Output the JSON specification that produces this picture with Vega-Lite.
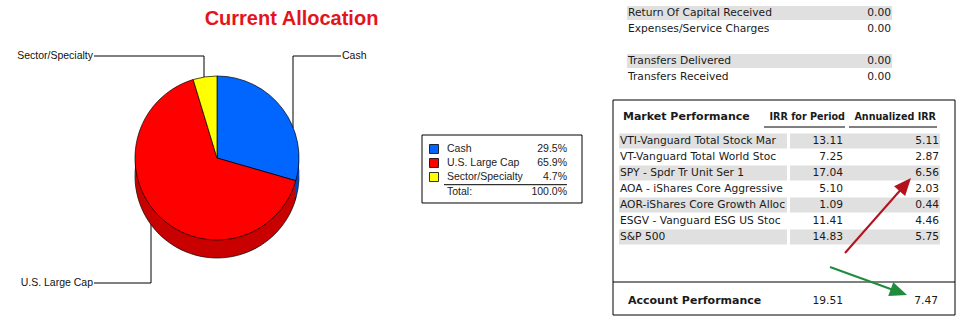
{
  "$schema": "https://vega.github.io/schema/vega-lite/v6.json",
  "padding": 0,
  "background": "white",
  "bounds": "flush",
  "spacing": 0,
  "config": {"view": {"stroke": null}, "axis": {"disable": true}, "legend": {"disable": true}},
  "resolve": {"scale": {"color": "independent", "fill": "independent", "stroke": "independent"}},
  "datasets": {
    "alloc": [
      {"category": "Cash", "pct": 29.5, "order": 1},
      {"category": "U.S. Large Cap", "pct": 65.9, "order": 2},
      {"category": "Sector/Specialty", "pct": 4.7, "order": 3}
    ],
    "alloc_total": [{"label": "Total:", "value": "100.0%"}],
    "callouts": [
      {"category": "Cash", "label_x": 341, "label_y": 56, "pie_x": 293, "pie_y": 128},
      {"category": "Sector/Specialty", "label_x": 94, "label_y": 56, "pie_x": 204, "pie_y": 90},
      {"category": "U.S. Large Cap", "label_x": 94, "label_y": 283, "pie_x": 151, "pie_y": 215}
    ],
    "title": [{"text": "Current Allocation"}],
    "summary": [
      {"section": 1, "item": 1, "row": 0, "label": "Return Of Capital Received", "value": "0.00"},
      {"section": 1, "item": 2, "row": 1, "label": "Expenses/Service Charges", "value": "0.00"},
      {"section": 2, "item": 1, "row": 3, "label": "Transfers Delivered", "value": "0.00"},
      {"section": 2, "item": 2, "row": 4, "label": "Transfers Received", "value": "0.00"}
    ],
    "header": [{"row": 6.5, "section": "Market Performance", "irr": "IRR for Period", "ann": "Annualized IRR"}],
    "market": [
      {"item": 1, "row": 8, "label": "VTI-Vanguard Total Stock Mar", "irr": "13.11", "ann": "5.11"},
      {"item": 2, "row": 9, "label": "VT-Vanguard Total World Stoc", "irr": "7.25", "ann": "2.87"},
      {"item": 3, "row": 10, "label": "SPY - Spdr Tr Unit Ser 1", "irr": "17.04", "ann": "6.56"},
      {"item": 4, "row": 11, "label": "AOA - iShares Core Aggressive", "irr": "5.10", "ann": "2.03"},
      {"item": 5, "row": 12, "label": "AOR-iShares Core Growth Alloc", "irr": "1.09", "ann": "0.44"},
      {"item": 6, "row": 13, "label": "ESGV - Vanguard ESG US Stoc", "irr": "11.41", "ann": "4.46"},
      {"item": 7, "row": 14, "label": "S&P 500", "irr": "14.83", "ann": "5.75"}
    ],
    "account": [{"row": 18, "label": "Account Performance", "irr": "19.51", "ann": "7.47"}],
    "arrows": [
      {"arrow": "S&P annualized", "x_from": 235, "row_from": 15, "x_to": 295.3, "row_to": 10.72, "angle": 41.3},
      {"arrow": "Account annualized", "x_from": 220, "row_from": 15.875, "x_to": 288.9, "row_to": 17.44, "angle": 110}
    ]
  },
  "hconcat": [
    {
      "width": 420,
      "height": 324,
      "layer": [
        {
          "data": {"name": "callouts"},
          "mark": {"type": "rule", "color": "#000000", "strokeWidth": 1},
          "encoding": {
            "x": {"field": "label_x", "type": "quantitative", "scale": {"domain": [0, 420], "nice": false, "zero": false}},
            "x2": {"field": "pie_x"},
            "y": {"field": "label_y", "type": "quantitative", "scale": {"domain": [0, 324], "reverse": true, "nice": false, "zero": false}}
          }
        },
        {
          "data": {"name": "callouts"},
          "mark": {"type": "rule", "color": "#000000", "strokeWidth": 1},
          "encoding": {
            "x": {"field": "pie_x", "type": "quantitative", "scale": {"domain": [0, 420], "nice": false, "zero": false}},
            "y": {"field": "label_y", "type": "quantitative", "scale": {"domain": [0, 324], "reverse": true, "nice": false, "zero": false}},
            "y2": {"field": "pie_y"}
          }
        },
        {
          "data": {"name": "alloc"},
          "mark": {"type": "arc", "radius": 82, "xOffset": 7, "yOffset": 14, "stroke": "#000000", "strokeWidth": 0.7},
          "encoding": {
            "theta": {"field": "pct", "type": "quantitative", "stack": true},
            "order": {"field": "order", "type": "quantitative"},
            "fill": {"field": "category", "type": "nominal", "scale": {"domain": ["Cash", "U.S. Large Cap", "Sector/Specialty"], "range": ["#0046c4", "#c80000", "#c8c800"]}}
          }
        },
        {
          "data": {"name": "alloc"},
          "mark": {"type": "arc", "radius": 82, "xOffset": 7, "yOffset": 10},
          "encoding": {
            "theta": {"field": "pct", "type": "quantitative", "stack": true},
            "order": {"field": "order", "type": "quantitative"},
            "fill": {"field": "category", "type": "nominal", "scale": {"domain": ["Cash", "U.S. Large Cap", "Sector/Specialty"], "range": ["#0046c4", "#c80000", "#c8c800"]}}
          }
        },
        {
          "data": {"name": "alloc"},
          "mark": {"type": "arc", "radius": 82, "xOffset": 7, "yOffset": 6},
          "encoding": {
            "theta": {"field": "pct", "type": "quantitative", "stack": true},
            "order": {"field": "order", "type": "quantitative"},
            "fill": {"field": "category", "type": "nominal", "scale": {"domain": ["Cash", "U.S. Large Cap", "Sector/Specialty"], "range": ["#0046c4", "#c80000", "#c8c800"]}}
          }
        },
        {
          "data": {"name": "alloc"},
          "mark": {"type": "arc", "radius": 82, "xOffset": 7, "yOffset": 2},
          "encoding": {
            "theta": {"field": "pct", "type": "quantitative", "stack": true},
            "order": {"field": "order", "type": "quantitative"},
            "fill": {"field": "category", "type": "nominal", "scale": {"domain": ["Cash", "U.S. Large Cap", "Sector/Specialty"], "range": ["#0046c4", "#c80000", "#c8c800"]}}
          }
        },
        {
          "data": {"name": "alloc"},
          "mark": {"type": "arc", "radius": 82, "xOffset": 7, "yOffset": -4, "stroke": "#000000", "strokeWidth": 0.7},
          "encoding": {
            "theta": {"field": "pct", "type": "quantitative", "stack": true},
            "order": {"field": "order", "type": "quantitative"},
            "color": {"field": "category", "type": "nominal", "scale": {"domain": ["Cash", "U.S. Large Cap", "Sector/Specialty"], "range": ["#0066ff", "#ff0000", "#ffff00"]}}
          }
        },
        {
          "data": {"name": "callouts"},
          "mark": {"type": "text", "font": "Liberation Sans", "fontSize": 10.5, "color": "#111111", "baseline": "middle", "align": {"expr": "datum.label_x < datum.pie_x ? 'right' : 'left'"}, "dx": {"expr": "datum.label_x < datum.pie_x ? -1 : 1"}},
          "encoding": {
            "x": {"field": "label_x", "type": "quantitative", "scale": {"domain": [0, 420], "nice": false, "zero": false}},
            "y": {"field": "label_y", "type": "quantitative", "scale": {"domain": [0, 324], "reverse": true, "nice": false, "zero": false}},
            "text": {"field": "category"}
          }
        },
        {
          "data": {"name": "title"},
          "mark": {"type": "text", "font": "Liberation Sans", "fontSize": 20, "fontWeight": "bold", "color": "#e4141b", "align": "center", "baseline": "middle"},
          "encoding": {
            "x": {"datum": 291.5, "type": "quantitative", "scale": {"domain": [0, 420], "nice": false, "zero": false}},
            "y": {"datum": 19, "type": "quantitative", "scale": {"domain": [0, 324], "reverse": true, "nice": false, "zero": false}},
            "text": {"field": "text"}
          }
        }
      ]
    },
    {
      "width": 190,
      "height": 324,
      "layer": [
        {
          "data": {"values": [{}]},
          "mark": {"type": "rect", "fill": "#ffffff", "stroke": "#000000", "strokeWidth": 1},
          "encoding": {
            "x": {"datum": 2, "type": "quantitative", "scale": {"domain": [0, 190], "nice": false, "zero": false}},
            "x2": {"datum": 162},
            "y": {"datum": 0, "type": "quantitative", "scale": {"domain": [-9.642857, 13.5], "reverse": true, "nice": false, "zero": false}},
            "y2": {"datum": 4.857}
          }
        },
        {
          "data": {"name": "alloc"},
          "mark": {"type": "square", "size": 81, "opacity": 1, "stroke": "#000000", "strokeWidth": 0.8},
          "encoding": {
            "x": {"datum": 14, "type": "quantitative", "scale": {"domain": [0, 190], "nice": false, "zero": false}},
            "y": {"field": "order", "type": "quantitative", "scale": {"domain": [-9.642857, 13.5], "reverse": true, "nice": false, "zero": false}},
            "color": {"field": "category", "type": "nominal", "scale": {"domain": ["Cash", "U.S. Large Cap", "Sector/Specialty"], "range": ["#0066ff", "#ff0000", "#ffff00"]}}
          }
        },
        {
          "data": {"name": "alloc"},
          "mark": {"type": "text", "font": "Liberation Sans", "fontSize": 10.5, "color": "#222222", "align": "left", "baseline": "middle"},
          "encoding": {
            "x": {"datum": 27, "type": "quantitative", "scale": {"domain": [0, 190], "nice": false, "zero": false}},
            "y": {"field": "order", "type": "quantitative", "scale": {"domain": [-9.642857, 13.5], "reverse": true, "nice": false, "zero": false}},
            "text": {"field": "category"}
          }
        },
        {
          "data": {"name": "alloc"},
          "mark": {"type": "text", "font": "Liberation Sans", "fontSize": 10.5, "color": "#222222", "align": "right", "baseline": "middle", "text": {"expr": "format(datum.pct, '.1f') + '%'"}},
          "encoding": {
            "x": {"datum": 147, "type": "quantitative", "scale": {"domain": [0, 190], "nice": false, "zero": false}},
            "y": {"field": "order", "type": "quantitative", "scale": {"domain": [-9.642857, 13.5], "reverse": true, "nice": false, "zero": false}}
          }
        },
        {
          "data": {"values": [{}]},
          "mark": {"type": "rule", "color": "#000000", "strokeWidth": 1},
          "encoding": {
            "x": {"datum": 24, "type": "quantitative", "scale": {"domain": [0, 190], "nice": false, "zero": false}},
            "x2": {"datum": 147},
            "y": {"datum": 3.55, "type": "quantitative", "scale": {"domain": [-9.642857, 13.5], "reverse": true, "nice": false, "zero": false}}
          }
        },
        {
          "data": {"name": "alloc_total"},
          "mark": {"type": "text", "font": "Liberation Sans", "fontSize": 10.5, "color": "#222222", "align": "left", "baseline": "middle"},
          "encoding": {
            "x": {"datum": 27, "type": "quantitative", "scale": {"domain": [0, 190], "nice": false, "zero": false}},
            "y": {"datum": 4.07, "type": "quantitative", "scale": {"domain": [-9.642857, 13.5], "reverse": true, "nice": false, "zero": false}},
            "text": {"field": "label"}
          }
        },
        {
          "data": {"name": "alloc_total"},
          "mark": {"type": "text", "font": "Liberation Sans", "fontSize": 10.5, "color": "#222222", "align": "right", "baseline": "middle"},
          "encoding": {
            "x": {"datum": 147, "type": "quantitative", "scale": {"domain": [0, 190], "nice": false, "zero": false}},
            "y": {"datum": 4.07, "type": "quantitative", "scale": {"domain": [-9.642857, 13.5], "reverse": true, "nice": false, "zero": false}},
            "text": {"field": "value"}
          }
        }
      ]
    },
    {
      "width": 354,
      "height": 324,
      "layer": [
        {
          "data": {"name": "summary"},
          "transform": [{"filter": "datum.item % 2 == 1"}],
          "mark": {"type": "rule", "color": "#e0e0e0", "strokeWidth": 14},
          "encoding": {
            "x": {"datum": 17, "type": "quantitative", "scale": {"domain": [0, 354], "nice": false, "zero": false}},
            "x2": {"datum": 282},
            "y": {"field": "row", "type": "quantitative", "scale": {"domain": [-0.8125, 19.4375], "reverse": true, "nice": false, "zero": false}}
          }
        },
        {
          "data": {"name": "summary"},
          "mark": {"type": "text", "font": "DejaVu Sans", "fontSize": 10.7, "color": "#1a1a1a", "align": "left", "baseline": "middle"},
          "encoding": {
            "x": {"datum": 18, "type": "quantitative", "scale": {"domain": [0, 354], "nice": false, "zero": false}},
            "y": {"field": "row", "type": "quantitative", "scale": {"domain": [-0.8125, 19.4375], "reverse": true, "nice": false, "zero": false}},
            "text": {"field": "label"}
          }
        },
        {
          "data": {"name": "summary"},
          "mark": {"type": "text", "font": "DejaVu Sans", "fontSize": 10.7, "color": "#1a1a1a", "align": "right", "baseline": "middle"},
          "encoding": {
            "x": {"datum": 281, "type": "quantitative", "scale": {"domain": [0, 354], "nice": false, "zero": false}},
            "y": {"field": "row", "type": "quantitative", "scale": {"domain": [-0.8125, 19.4375], "reverse": true, "nice": false, "zero": false}},
            "text": {"field": "value"}
          }
        },
        {
          "data": {"values": [{}]},
          "mark": {"type": "rect", "fill": "#ffffff", "fillOpacity": 0, "stroke": "#000000", "strokeWidth": 1},
          "encoding": {
            "x": {"datum": 3, "type": "quantitative", "scale": {"domain": [0, 354], "nice": false, "zero": false}},
            "x2": {"datum": 345},
            "y": {"datum": 5.4375, "type": "quantitative", "scale": {"domain": [-0.8125, 19.4375], "reverse": true, "nice": false, "zero": false}},
            "y2": {"datum": 18.875}
          }
        },
        {
          "data": {"values": [{}]},
          "mark": {"type": "rule", "color": "#000000", "strokeWidth": 1},
          "encoding": {
            "x": {"datum": 3, "type": "quantitative", "scale": {"domain": [0, 354], "nice": false, "zero": false}},
            "x2": {"datum": 345},
            "y": {"datum": 16.8125, "type": "quantitative", "scale": {"domain": [-0.8125, 19.4375], "reverse": true, "nice": false, "zero": false}}
          }
        },
        {
          "data": {"name": "header"},
          "mark": {"type": "text", "font": "DejaVu Sans", "fontSize": 11, "fontWeight": "bold", "color": "#1a1a1a", "align": "left", "baseline": "middle"},
          "encoding": {
            "x": {"datum": 13, "type": "quantitative", "scale": {"domain": [0, 354], "nice": false, "zero": false}},
            "y": {"field": "row", "type": "quantitative", "scale": {"domain": [-0.8125, 19.4375], "reverse": true, "nice": false, "zero": false}},
            "text": {"field": "section"}
          }
        },
        {
          "data": {"name": "header"},
          "mark": {"type": "text", "font": "DejaVu Sans", "fontSize": 9.6, "fontWeight": "bold", "color": "#1a1a1a", "align": "right", "baseline": "middle"},
          "encoding": {
            "x": {"datum": 235, "type": "quantitative", "scale": {"domain": [0, 354], "nice": false, "zero": false}},
            "y": {"field": "row", "type": "quantitative", "scale": {"domain": [-0.8125, 19.4375], "reverse": true, "nice": false, "zero": false}},
            "text": {"field": "irr"}
          }
        },
        {
          "data": {"name": "header"},
          "mark": {"type": "text", "font": "DejaVu Sans", "fontSize": 9.6, "fontWeight": "bold", "color": "#1a1a1a", "align": "right", "baseline": "middle"},
          "encoding": {
            "x": {"datum": 326, "type": "quantitative", "scale": {"domain": [0, 354], "nice": false, "zero": false}},
            "y": {"field": "row", "type": "quantitative", "scale": {"domain": [-0.8125, 19.4375], "reverse": true, "nice": false, "zero": false}},
            "text": {"field": "ann"}
          }
        },
        {
          "data": {"name": "header"},
          "mark": {"type": "rule", "color": "#000000", "strokeWidth": 1},
          "encoding": {
            "x": {"datum": 154, "type": "quantitative", "scale": {"domain": [0, 354], "nice": false, "zero": false}},
            "x2": {"datum": 235},
            "y": {"datum": 7.125, "type": "quantitative", "scale": {"domain": [-0.8125, 19.4375], "reverse": true, "nice": false, "zero": false}}
          }
        },
        {
          "data": {"name": "header"},
          "mark": {"type": "rule", "color": "#000000", "strokeWidth": 1},
          "encoding": {
            "x": {"datum": 239, "type": "quantitative", "scale": {"domain": [0, 354], "nice": false, "zero": false}},
            "x2": {"datum": 327},
            "y": {"datum": 7.125, "type": "quantitative", "scale": {"domain": [-0.8125, 19.4375], "reverse": true, "nice": false, "zero": false}}
          }
        },
        {
          "data": {"name": "market"},
          "transform": [{"filter": "datum.item % 2 == 1"}],
          "mark": {"type": "rule", "color": "#e0e0e0", "strokeWidth": 15},
          "encoding": {
            "x": {"datum": 9, "type": "quantitative", "scale": {"domain": [0, 354], "nice": false, "zero": false}},
            "x2": {"datum": 177},
            "y": {"field": "row", "type": "quantitative", "scale": {"domain": [-0.8125, 19.4375], "reverse": true, "nice": false, "zero": false}}
          }
        },
        {
          "data": {"name": "market"},
          "transform": [{"filter": "datum.item % 2 == 1"}],
          "mark": {"type": "rule", "color": "#e0e0e0", "strokeWidth": 15},
          "encoding": {
            "x": {"datum": 180, "type": "quantitative", "scale": {"domain": [0, 354], "nice": false, "zero": false}},
            "x2": {"datum": 330},
            "y": {"field": "row", "type": "quantitative", "scale": {"domain": [-0.8125, 19.4375], "reverse": true, "nice": false, "zero": false}}
          }
        },
        {
          "data": {"name": "market"},
          "mark": {"type": "text", "font": "DejaVu Sans", "fontSize": 10.7, "color": "#1a1a1a", "align": "left", "baseline": "middle", "limit": 167, "ellipsis": ""},
          "encoding": {
            "x": {"datum": 10, "type": "quantitative", "scale": {"domain": [0, 354], "nice": false, "zero": false}},
            "y": {"field": "row", "type": "quantitative", "scale": {"domain": [-0.8125, 19.4375], "reverse": true, "nice": false, "zero": false}},
            "text": {"field": "label"}
          }
        },
        {
          "data": {"name": "market"},
          "mark": {"type": "text", "font": "DejaVu Sans", "fontSize": 10.7, "color": "#1a1a1a", "align": "right", "baseline": "middle"},
          "encoding": {
            "x": {"datum": 233, "type": "quantitative", "scale": {"domain": [0, 354], "nice": false, "zero": false}},
            "y": {"field": "row", "type": "quantitative", "scale": {"domain": [-0.8125, 19.4375], "reverse": true, "nice": false, "zero": false}},
            "text": {"field": "irr"}
          }
        },
        {
          "data": {"name": "market"},
          "mark": {"type": "text", "font": "DejaVu Sans", "fontSize": 10.7, "color": "#1a1a1a", "align": "right", "baseline": "middle"},
          "encoding": {
            "x": {"datum": 329, "type": "quantitative", "scale": {"domain": [0, 354], "nice": false, "zero": false}},
            "y": {"field": "row", "type": "quantitative", "scale": {"domain": [-0.8125, 19.4375], "reverse": true, "nice": false, "zero": false}},
            "text": {"field": "ann"}
          }
        },
        {
          "data": {"name": "account"},
          "mark": {"type": "text", "font": "DejaVu Sans", "fontSize": 11, "fontWeight": "bold", "color": "#1a1a1a", "align": "left", "baseline": "middle"},
          "encoding": {
            "x": {"datum": 18, "type": "quantitative", "scale": {"domain": [0, 354], "nice": false, "zero": false}},
            "y": {"field": "row", "type": "quantitative", "scale": {"domain": [-0.8125, 19.4375], "reverse": true, "nice": false, "zero": false}},
            "text": {"field": "label"}
          }
        },
        {
          "data": {"name": "account"},
          "mark": {"type": "text", "font": "DejaVu Sans", "fontSize": 10.7, "color": "#1a1a1a", "align": "right", "baseline": "middle"},
          "encoding": {
            "x": {"datum": 233, "type": "quantitative", "scale": {"domain": [0, 354], "nice": false, "zero": false}},
            "y": {"field": "row", "type": "quantitative", "scale": {"domain": [-0.8125, 19.4375], "reverse": true, "nice": false, "zero": false}},
            "text": {"field": "irr"}
          }
        },
        {
          "data": {"name": "account"},
          "mark": {"type": "text", "font": "DejaVu Sans", "fontSize": 10.7, "color": "#1a1a1a", "align": "right", "baseline": "middle"},
          "encoding": {
            "x": {"datum": 328, "type": "quantitative", "scale": {"domain": [0, 354], "nice": false, "zero": false}},
            "y": {"field": "row", "type": "quantitative", "scale": {"domain": [-0.8125, 19.4375], "reverse": true, "nice": false, "zero": false}},
            "text": {"field": "ann"}
          }
        },
        {
          "data": {"name": "arrows"},
          "mark": {"type": "rule", "strokeWidth": 2},
          "encoding": {
            "x": {"field": "x_from", "type": "quantitative", "scale": {"domain": [0, 354], "nice": false, "zero": false}},
            "x2": {"field": "x_to"},
            "y": {"field": "row_from", "type": "quantitative", "scale": {"domain": [-0.8125, 19.4375], "reverse": true, "nice": false, "zero": false}},
            "y2": {"field": "row_to"},
            "color": {"field": "arrow", "type": "nominal", "scale": {"domain": ["S&P annualized", "Account annualized"], "range": ["#b3121d", "#1e8c3c"]}}
          }
        },
        {
          "data": {"name": "arrows"},
          "mark": {"type": "point", "shape": "M0,-1L0.85,1L-0.85,1Z", "size": 300, "filled": true, "opacity": 1},
          "encoding": {
            "x": {"field": "x_to", "type": "quantitative", "scale": {"domain": [0, 354], "nice": false, "zero": false}},
            "y": {"field": "row_to", "type": "quantitative", "scale": {"domain": [-0.8125, 19.4375], "reverse": true, "nice": false, "zero": false}},
            "angle": {"field": "angle", "type": "quantitative", "scale": null},
            "color": {"field": "arrow", "type": "nominal", "scale": {"domain": ["S&P annualized", "Account annualized"], "range": ["#b3121d", "#1e8c3c"]}}
          }
        }
      ]
    }
  ]
}
